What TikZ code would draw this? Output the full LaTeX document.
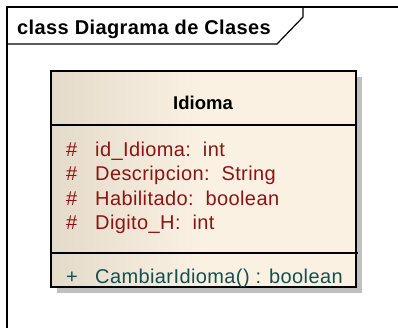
\documentclass[tikz,border=0pt]{standalone}
\usepackage{fontspec}
\setmainfont{Liberation Sans}
\newfontfamily\lsp[LetterSpace=2]{Liberation Sans}
\usetikzlibrary{shadings}
\definecolor{attrred}{RGB}{140,20,20}
\definecolor{opteal}{RGB}{20,80,80}
\definecolor{cream}{RGB}{251,241,226}
\definecolor{beige}{RGB}{228,218,202}
\definecolor{shadowgray}{RGB}{192,192,192}
\tikzset{
  txt/.style={inner sep=0pt, anchor=base west, font=\lsp\fontsize{20}{24}\selectfont},
  attr/.style={txt, text=attrred},
  oper/.style={txt, text=opteal},
  boldtxt/.style={inner sep=0pt, anchor=base, font=\lsp\fontsize{20}{24}\selectfont\bfseries},
  frameline/.style={line width=1.2pt, black},
  boxline/.style={line width=1.5pt, black}
}
\begin{document}
\begin{tikzpicture}[x=1pt,y=-1pt]
\useasboundingbox (0,0) rectangle (398,327);
% frame
\draw[frameline] (7,330) -- (7,7) -- (402,7);
\draw[frameline] (7,44) -- (277,44) -- (303,17) -- (303,7);
\node[boldtxt, anchor=base west] (title) at (17,34) {class Diagrama de Clases};
% class box
\fill[shadowgray] (57,77) rectangle (362,293);
\fill[cream] (51,71) rectangle (356,287);
\shade[left color=beige, right color=cream] (51,71) rectangle (200,287);
\coordinate (tl) at (51,71);
\coordinate (br) at (356,287);
\draw[boxline] (tl) rectangle (br);
\draw[boxline] (51,125) -- (356,125);
\draw[boxline] (51,253) -- (358,253);
\node[inner sep=0pt, anchor=base, font=\fontsize{18.5}{22}\selectfont\bfseries] (cname) at (203,109) {Idioma};
\node[attr] (h1) at (66,156) {\#};
\node[attr] (a1) at (95,156) {id\_Idioma:\ \ int};
\node[attr] (h2) at (66,180.5) {\#};
\node[attr] (a2) at (95,180.5) {Descripcion:\ \ String};
\node[attr] (h3) at (66,205) {\#};
\node[attr] (a3) at (95,205) {Habilitado:\ \ boolean};
\node[attr] (h4) at (66,229.5) {\#};
\node[attr] (a4) at (95,229.5) {Digito\_H:\ \ int};
\node[oper] (p1) at (66,283) {+};
\node[oper] (o1) at (95,283) {CambiarIdioma() : boolean};
\end{tikzpicture}
\end{document}
